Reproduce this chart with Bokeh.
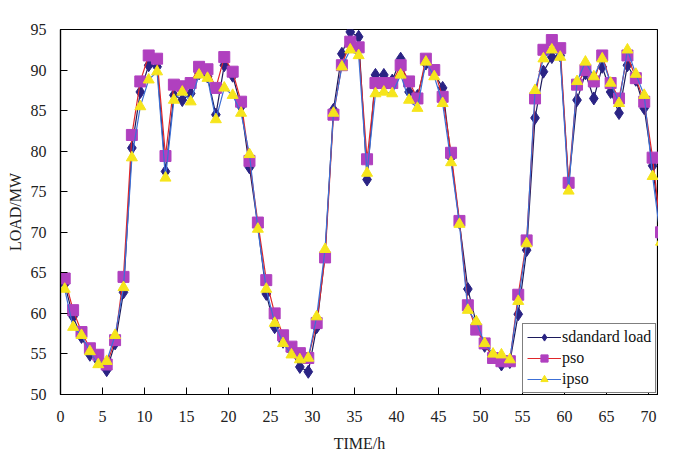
from bokeh.plotting import figure
from bokeh.models import Range1d, FixedTicker, Legend, LegendItem
from bokeh.embed import file_html
from bokeh.resources import INLINE

hours = list(range(72))
x_pos = [h + 0.5 for h in hours]

standard_load = [63.6, 59.6, 57.1, 54.9, 54.1, 53.0, 56.3, 62.6, 80.4, 87.3,
                 90.6, 90.4, 77.5, 86.9, 86.3, 87.1, 89.6, 89.2, 84.5, 90.6,
                 89.3, 85.5, 78.0, 70.8, 62.4, 58.3, 56.5, 55.3, 53.4, 52.8,
                 58.3, 67.3, 85.1, 92.0, 94.7, 94.1, 76.5, 89.4, 89.4, 88.7,
                 91.4, 87.3, 86.8, 90.8, 89.6, 87.8, 79.2, 71.2, 63.0, 58.8,
                 56.0, 54.8, 53.7, 54.0, 59.9, 67.8, 84.1, 89.8, 91.6, 91.8,
                 76.0, 86.3, 89.6, 86.5, 90.4, 87.3, 84.7, 90.6, 88.8, 85.3,
                 78.2, 69.5]
pso = [64.3, 60.4, 57.7, 55.7, 54.9, 53.7, 56.7, 64.5, 82.0, 88.6,
       91.8, 91.4, 79.4, 88.2, 88.0, 88.4, 90.4, 90.1, 87.8, 91.6,
       89.8, 86.1, 78.8, 71.2, 64.1, 60.0, 57.3, 55.9, 55.1, 54.5,
       58.8, 66.9, 84.5, 90.6, 93.5, 92.8, 79.0, 88.4, 88.4, 88.4,
       90.6, 88.6, 86.5, 91.4, 90.0, 86.7, 79.8, 71.4, 61.0, 58.0,
       56.3, 54.5, 54.1, 54.1, 62.3, 69.0, 86.5, 92.5, 93.7, 92.7,
       76.1, 88.2, 90.0, 88.6, 91.8, 88.4, 86.5, 91.8, 89.0, 86.1,
       79.2, 70.0]
ipso = [63.0, 58.3, 57.3, 55.3, 53.7, 54.1, 57.3, 63.2, 79.2, 85.5,
        88.8, 89.8, 76.7, 86.3, 87.3, 86.1, 89.4, 89.0, 83.9, 87.8,
        86.9, 84.7, 79.6, 70.4, 63.0, 58.8, 56.3, 54.9, 54.3, 54.5,
        59.6, 67.9, 84.7, 90.4, 92.5, 91.8, 77.3, 87.1, 87.3, 87.1,
        89.4, 86.3, 85.3, 91.0, 89.2, 85.9, 78.6, 71.0, 60.4, 59.0,
        56.3, 55.0, 54.9, 54.3, 61.5, 68.6, 87.5, 91.4, 92.5, 91.6,
        75.1, 88.6, 91.0, 89.2, 91.4, 88.4, 85.9, 92.5, 89.5, 86.9,
        76.9, 68.8]

x_ticks = [0, 5, 10, 15, 20, 25, 30, 35, 40, 45, 50, 55, 60, 65, 70]
y_ticks = [50, 55, 60, 65, 70, 75, 80, 85, 90, 95]

FONT = "Liberation Serif"

p = figure(width=658, height=454, output_backend="svg", toolbar_location=None,
           x_range=Range1d(0, 71.2), y_range=Range1d(50, 95),
           min_border_left=60, min_border_right=0, min_border_top=29,
           min_border_bottom=56)
p.grid.visible = False
p.outline_line_color = "black"
p.outline_line_width = 1.2
p.background_fill_color = "white"
p.border_fill_color = "white"

for ax in (p.xaxis[0], p.yaxis[0]):
    ax.major_tick_in = 7
    ax.major_tick_out = 0
    ax.minor_tick_in = 0
    ax.minor_tick_out = 0
    ax.axis_line_color = "black"
    ax.axis_line_width = 1.2
    ax.major_tick_line_color = "black"
    ax.major_label_text_font = FONT
    ax.major_label_text_font_size = "16px"
    ax.major_label_text_color = "#222222"
    ax.axis_label_text_font = FONT
    ax.axis_label_text_font_size = "16px"
    ax.axis_label_text_font_style = "normal"
    ax.axis_label_text_color = "#222222"

p.xaxis.ticker = FixedTicker(ticks=x_ticks)
p.yaxis.ticker = FixedTicker(ticks=y_ticks)
p.xaxis.axis_label = "TIME/h"
p.yaxis.axis_label = "LOAD/MW"
p.xaxis.major_label_standoff = 16
p.yaxis.major_label_standoff = 14
p.xaxis.axis_label_standoff = 10
p.yaxis.axis_label_standoff = 4

l1 = p.line(x_pos, standard_load, line_color="#1c1a5c", line_width=1.2)
s1 = p.scatter(x_pos, standard_load, marker="diamond", size=13,
               fill_color="#2a2384", line_color="#2a2384")
l2 = p.line(x_pos, pso, line_color="#e0262a", line_width=1.2)
s2 = p.scatter(x_pos, pso, marker="square", size=11,
               fill_color="#b040bf", line_color="#b040bf")
l3 = p.line(x_pos, ipso, line_color="#3c6fd6", line_width=1.2)
s3 = p.scatter(x_pos, ipso, marker="triangle", size=11,
               fill_color="#f6e51c", line_color="#f6e51c")

legend = Legend(items=[
    LegendItem(label="sdandard load", renderers=[l1, s1]),
    LegendItem(label="pso", renderers=[l2, s2]),
    LegendItem(label="ipso", renderers=[l3, s3]),
], location=(462, 1))
legend.label_text_font = FONT
legend.label_text_font_size = "16px"
legend.label_text_color = "#111111"
legend.border_line_color = "black"
legend.border_line_width = 1
legend.background_fill_alpha = 1
legend.glyph_width = 34
legend.glyph_height = 18
legend.label_standoff = 1
legend.spacing = 3
legend.padding = 4
legend.margin = 0
legend.label_height = 18
p.add_layout(legend, "center")

open("out.html", "w").write(file_html(p, INLINE))
